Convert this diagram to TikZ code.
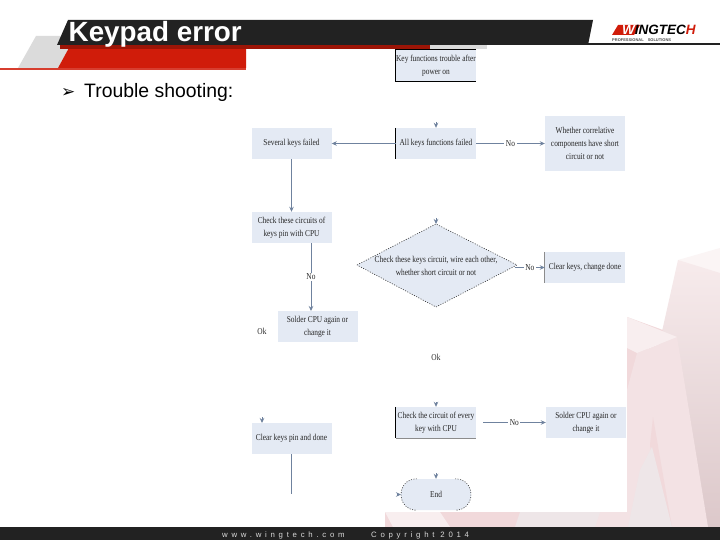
\documentclass[tikz,border=0pt]{standalone}
\usepackage{fontspec}
\setmainfont{Liberation Sans}
\newfontfamily\flowfont[FakeStretch=0.82]{Liberation Serif}
\newfontfamily\footfont[LetterSpace=48]{Liberation Sans}
\newfontfamily\symfont{DejaVu Sans}
\usetikzlibrary{arrows.meta,calc}
\definecolor{boxfill}{HTML}{E4EAF4}
\definecolor{conn}{HTML}{6F829E}
\definecolor{barblack}{HTML}{222222}
\definecolor{barred}{HTML}{D01C0A}
\definecolor{bgtop}{HTML}{F7EBEC}
\definecolor{bgbot}{HTML}{DCC8CA}
\definecolor{bgpale}{HTML}{F8EEEF}
\definecolor{bgleg}{HTML}{F3E2E4}
\definecolor{bgpink}{HTML}{F1D9DB}
\definecolor{bggrey}{HTML}{EEE6E8}
\tikzset{
  flowbox/.style={fill=boxfill,minimum width=80pt,minimum height=31pt,inner sep=0pt,align=center,font=\flowfont\fontsize{9}{13}\selectfont,text=black!85},
  flowlabel/.style={font=\flowfont\fontsize{9}{11}\selectfont,text=black!85,inner sep=1pt},
  gaplabel/.style={flowlabel,fill=white,inner sep=1.5pt},
  link/.style={draw=conn,line width=0.8pt,-{Stealth[length=5pt,width=4.5pt]}},
  plainlink/.style={draw=conn,line width=0.8pt},
  edgeblack/.style={draw=black,line width=0.8pt},
  edgegrey/.style={draw=black!45,line width=0.8pt},
  dotedge/.style={draw=black!80,line width=0.6pt,dash pattern=on 1pt off 1.5pt}
}
\begin{document}
\begin{tikzpicture}[x=1pt,y=-1pt]
\useasboundingbox (0,0) rectangle (720,540);
% background
\fill[white] (0,0) rectangle (720,540);
\fill[bgpale!60!white] (678,260) -- (720,248) -- (720,275) -- cycle;
\shade[top color=bgtop,bottom color=bgbot] (678,260) -- (720,273) -- (720,527) -- (600,527) -- (627,470) -- (663,327) -- cycle;
\fill[bgpink] (627,317) -- (663,330) -- (640,358) -- (600,527) -- (385,527) -- (385,512) -- (627,512) -- cycle;
\fill[bgleg] (637,353) -- (677,337) -- (708,527) -- (590,527) -- cycle;
\fill[bgpale] (627,317) -- (677,337) -- (637,353) -- (627,348) -- cycle;
\fill[bgpink] (653,417) -- (672,527) -- (662,527) -- (650,445) -- cycle;
\fill[bggrey] (652,447) -- (672,527) -- (628,527) -- (640,470) -- cycle;
\fill[bgpale] (385,512) -- (440,512) -- (450,527) -- (393,527) -- cycle;
\fill[bggrey] (520,512) -- (600,512) -- (595,527) -- (515,527) -- cycle;
\fill[white] (246,47) rectangle (627,512);
% header
\fill[gray!28] (36,36) -- (60,36) -- (70,46) -- (58,68) -- (18,68) -- cycle;
\fill[barred] (70,46) -- (246,46) -- (246,68) -- (58,68) -- cycle;
\fill[barred!85!white] (0,68) rectangle (246,70);
\fill[barred!75!black] (60,45) rectangle (430,49);
\fill[gray!28] (430,45) rectangle (487,49);
\fill[barblack] (68,20) -- (593,20) -- (588,45) -- (57,45) -- cycle;
\fill[barblack] (587,43) rectangle (720,45);
\node[anchor=base west,inner sep=0pt,text=white,font=\bfseries\fontsize{27.8}{28}\selectfont] (title) at (68.5,42) {Keypad error};
\node[anchor=base west,inner sep=0pt,font=\symfont\fontsize{17}{17}\selectfont] (bullet) at (61,98) {➢};
\node[anchor=base west,inner sep=0pt,font=\fontsize{19.4}{20}\selectfont] (sub) at (84,98) {Trouble shooting:};
% logo
\fill[barred] (612,35) -- (618,25) -- (640,25) -- (634,35) -- cycle;
\node[anchor=base west,inner sep=0pt,font=\bfseries\itshape\fontsize{13.5}{13.5}\selectfont] (logo) at (622,35) {\textcolor{white}{W}\textcolor{black}{INGTEC}\textcolor{barred}{H}};
\node[anchor=base west,inner sep=0pt,font=\bfseries\fontsize{4}{4}\selectfont,text=black!70] (logosub) at (612,41.5) {PROFESSIONAL\quad SOLUTIONS};
% footer
\fill[barblack] (0,527) rectangle (720,540);
\node[anchor=base west,inner sep=0pt,text=white!85!black,font=\footfont\fontsize{7.8}{8}\selectfont] (web) at (222,537) {www.wingtech.com};
\node[anchor=base west,inner sep=0pt,text=white!85!black,font=\footfont\fontsize{7.8}{8}\selectfont] (copy) at (371,537) {Copyright 2014};
% nodes
\node[flowbox] (start) at (436,65.5) {Key functions trouble after\\power on};
\node[flowbox] (all) at (436,143.5) {All keys functions failed};
\node[flowbox] (several) at (291.5,143.5) {Several keys failed};
\node[flowbox,minimum height=55pt] (whether) at (585,143.5) {Whether correlative\\components have short\\circuit or not};
\node[flowbox] (chk) at (291.5,227.5) {Check these circuits of\\keys pin with CPU};
\path[fill=boxfill] (357,265) -- (436,224) -- (517,265) -- (436,307) -- cycle;
\node[inner sep=0pt,align=center,font=\flowfont\fontsize{9}{13}\selectfont,text=black!85] (diamond) at (436,265.5) {Check these keys circuit, wire each other,\\whether short circuit or not};
\node[flowbox] (clear) at (585,267.5) {Clear keys, change done};
\node[flowbox] (solderA) at (317.5,326.5) {Solder CPU again or\\change it};
\node[flowbox] (every) at (436,422.5) {Check the circuit of every\\key with CPU};
\node[flowbox] (solderB) at (586,422.5) {Solder CPU again or\\change it};
\node[flowbox] (pin) at (291.5,438.5) {Clear keys pin and done};
\node[flowbox,minimum width=70pt,rounded corners=15pt] (endnode) at (436,494.5) {End};
\node[flowlabel] (okA) at (262,331.5) {Ok};
\node[flowlabel] (okB) at (436,357) {Ok};
% partial borders
\draw[edgeblack] (start.north east) -- (start.north west) -- (start.south west) -- (start.south east);
\draw[edgeblack] (all.north west) -- (all.south west);
\draw[edgegrey] (clear.north west) -- (clear.south west);
\draw[edgeblack] (every.north west) -- (every.south west);
\draw[edgegrey] (every.south west) -- (every.south east);
\draw[dotedge] (357,265) -- (436,224) -- (517,265) -- (436,307) -- cycle;
\draw[dotedge] ([xshift=16pt]endnode.north west) .. controls ([xshift=-5pt]endnode.north west) and ([xshift=-5pt]endnode.south west) .. ([xshift=16pt]endnode.south west);
\draw[dotedge] ([xshift=-16pt]endnode.north east) .. controls ([xshift=5pt]endnode.north east) and ([xshift=5pt]endnode.south east) .. ([xshift=-16pt]endnode.south east);
% free ends of the connector stubs
\coordinate (stubAll) at (436,122);
\coordinate (stubDiamond) at (436,218);
\coordinate (diamondTop) at (436,224);
\coordinate (diamondRight) at (515,267.5);
\coordinate (stubEvery) at (436,402);
\coordinate (stubPin) at (262,417);
\coordinate (pinTop) at (262,423);
\coordinate (stubEnd) at (436,473);
\coordinate (stubEndL) at (397,494.5);
\coordinate (endLeft) at (401,494.5);
\coordinate (pinEnd) at (291.5,494);
\coordinate (chkDown) at (311,243);
\coordinate (solderTop) at (311,311);
\coordinate (everyRight) at (483,422.5);
% connectors
\draw[link] (stubAll) -- (all.north);
\draw[link] (all.west) -- (several.east);
\path[link] (all.east) -- node[gaplabel,pos=.5] (noA) {No} (whether.west);
\draw[link] (several.south) -- (chk.north);
\draw[link] (chkDown) -- node[gaplabel,pos=.5] (noB) {No} (solderTop);
\draw[link] (stubDiamond) -- (diamondTop);
\draw[link] (diamondRight) -- node[gaplabel,pos=.5] (noC) {No} (clear.west);
\draw[link] (stubEvery) -- (every.north);
\draw[link] (everyRight) -- node[gaplabel,pos=.5] (noD) {No} (solderB.west);
\draw[link] (stubPin) -- (pinTop);
\draw[plainlink] (pin.south) -- (pinEnd);
\draw[link] (stubEnd) -- (endnode.north);
\draw[link] (stubEndL) -- (endLeft);
\end{tikzpicture}
\end{document}
